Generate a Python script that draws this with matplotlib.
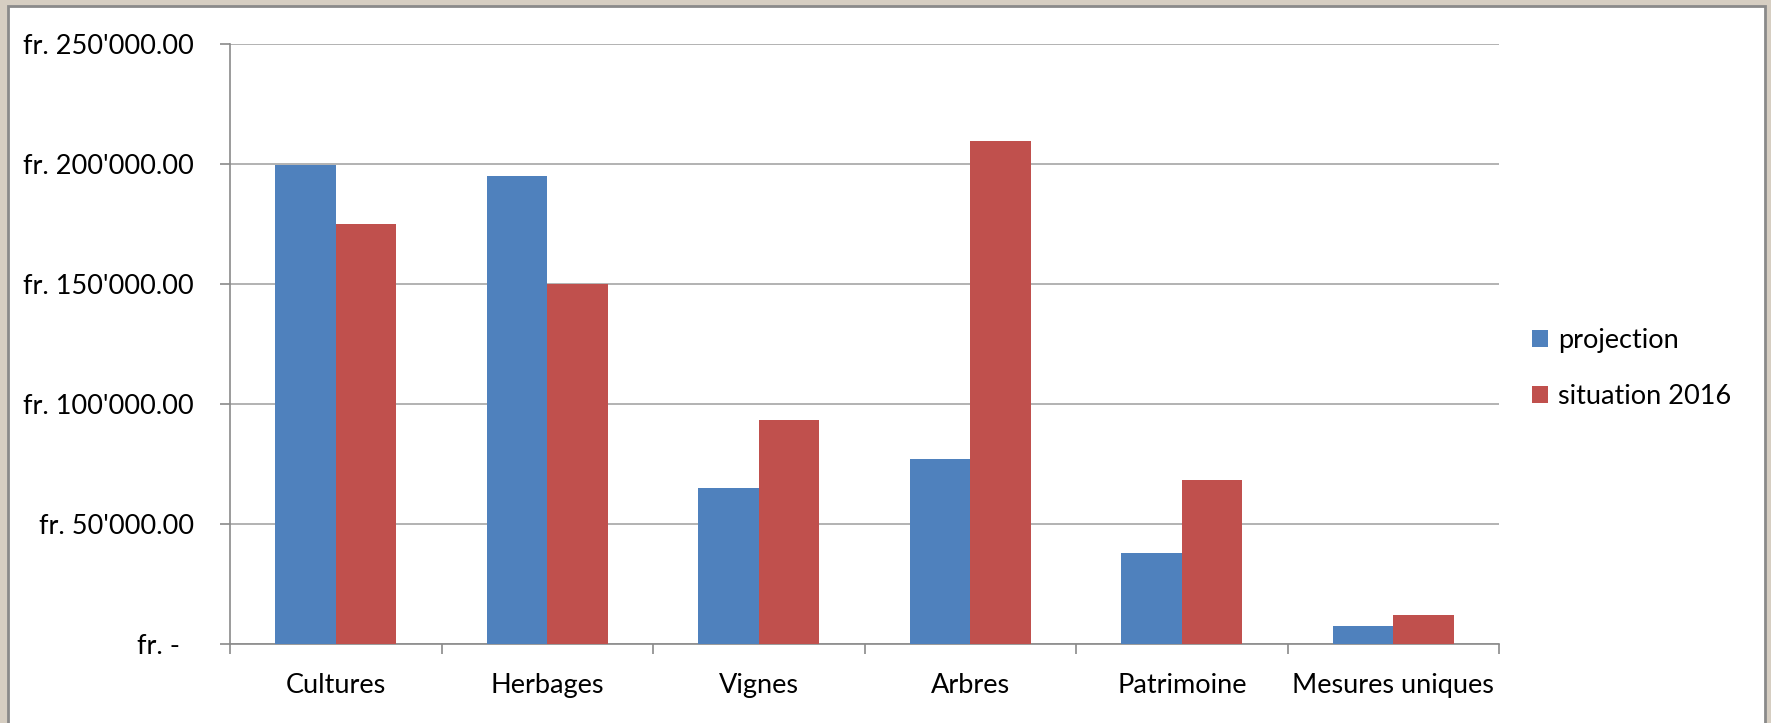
import matplotlib
matplotlib.use("Agg")
import matplotlib.pyplot as plt
from matplotlib.patches import Rectangle
from matplotlib.ticker import FixedLocator
import numpy as np

categories = ["Cultures", "Herbages", "Vignes", "Arbres", "Patrimoine", "Mesures uniques"]
projection = [199200, 194600, 64600, 77000, 37800, 7200]
situation_2016 = [174700, 149800, 93200, 209400, 68200, 11700]
series_names = ["projection", "situation 2016"]
ytick_values = [0, 50000, 100000, 150000, 200000, 250000]
ytick_labels = ["fr. -  ", "fr. 50'000.00", "fr. 100'000.00", "fr. 150'000.00",
                "fr. 200'000.00", "fr. 250'000.00"]

W, H = 1771, 723
plt.rcParams['font.family'] = ['Lato', 'DejaVu Sans']
fig = plt.figure(figsize=(W / 100, H / 100), dpi=100)
fig.patch.set_facecolor("#d6cec2")

# white chart panel with grey border
panel = Rectangle((8 / W, -0.05), (1765 - 8) / W, (H - 6) / H + 0.05,
                  transform=fig.transFigure, facecolor="white",
                  edgecolor="#8a8a8a", linewidth=2.0, zorder=-5)
fig.patches.append(panel)

ax = fig.add_axes([230 / W, (H - 643.5) / H, (1499 - 230) / W, (643.5 - 43.5) / H])
ax.set_zorder(2)
ax.set_facecolor("none")

x = np.arange(len(categories))
w = 1 / 3.5
blue = "#4F81BD"
red = "#C0504D"
ax.bar(x - w / 2, projection, width=w, color=blue, label=series_names[0], zorder=3)
ax.bar(x + w / 2, situation_2016, width=w, color=red, label=series_names[1], zorder=3)

ax.set_xlim(-0.5, len(categories) - 0.5)
ax.set_ylim(0, 250000)
ax.set_yticks(ytick_values)
ax.set_yticklabels(ytick_labels)
ax.yaxis.grid(True, color="#a6a6a6", linewidth=1.2, zorder=1)
ax.set_axisbelow(True)

fs = 19.5
ax.set_xticks(x)
ax.set_xticklabels(categories)
ax.xaxis.set_minor_locator(FixedLocator(np.arange(len(categories) + 1) - 0.5))
ax.tick_params(axis="x", which="major", length=0, pad=21, labelsize=fs, colors="#000000")
ax.tick_params(axis="x", which="minor", length=7, width=1.2, color="#8a8a8a", direction="out")
ax.tick_params(axis="y", which="major", length=7, width=1.2, color="#8a8a8a", pad=19,
               labelsize=fs, labelcolor="#000000")

for s in ["top", "right"]:
    ax.spines[s].set_visible(False)
for s in ["left", "bottom"]:
    ax.spines[s].set_color("#8a8a8a")
    ax.spines[s].set_linewidth(1.2)

leg = ax.legend(loc="center left", bbox_to_anchor=(1.026, 0.458), frameon=False,
                fontsize=fs, handlelength=0.6, handleheight=0.6, handletextpad=0.35,
                labelspacing=1.15, borderaxespad=0, borderpad=0)

fig.savefig("out.png", dpi=100, facecolor=fig.get_facecolor())
